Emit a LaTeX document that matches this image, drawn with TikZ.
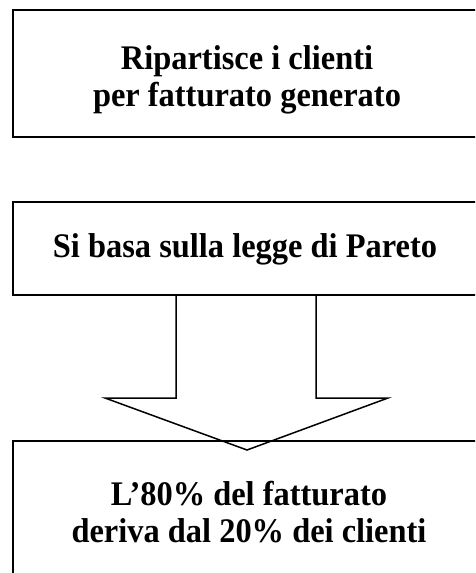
\documentclass[tikz,border=0pt]{standalone}
\usepackage{fontspec}
\setmainfont{Liberation Serif}
\begin{document}
\begin{tikzpicture}[x=1pt,y=-1pt,
  boxstyle/.style={draw=black, line width=2pt, inner sep=0pt},
  txt/.style={inner sep=0pt, align=center, xscale=0.94, transform shape,
    font=\fontsize{34.5}{37}\selectfont\bfseries},
  arrowshape/.style={draw=black, line width=1.5pt, line join=miter}]
\useasboundingbox (0,0) rectangle (475,573);
\clip (0,0) rectangle (475,573);
\node[boxstyle, minimum width=468pt, minimum height=127pt] (b1) at (247,73.5) {};
\node[txt] (t1) at (247,80) {Ripartisce i clienti\\per fatturato generato};
\node[boxstyle, minimum width=468pt, minimum height=93pt] (b2) at (247,248.5) {};
\node[txt] (t2) at (245,249) {Si basa sulla legge di Pareto};
\node[boxstyle, minimum width=468pt, minimum height=160pt, anchor=north] (b3) at (247,440) {};
\node[txt] (t3) at (249,512) {L’80\% del fatturato\\deriva dal 20\% dei clienti};
\coordinate (sl) at ([xshift=-71pt]b2.south);
\coordinate (sr) at ([xshift=69pt]b2.south);
\coordinate (tip) at ([yshift=-10pt]b3.north);
\draw[arrowshape] (sl) -- (sl |- 0,398) -- (105,398) -- (tip) -- (388,398) -- (sr |- 0,398) -- (sr);
\end{tikzpicture}
\end{document}
